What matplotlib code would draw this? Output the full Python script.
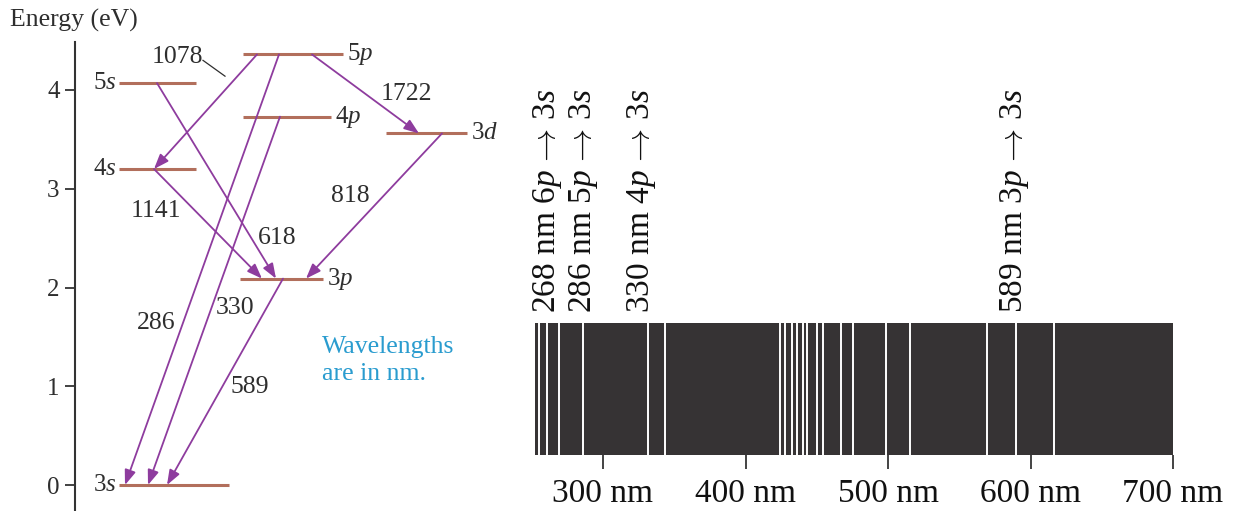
import matplotlib
matplotlib.use("Agg")
import matplotlib.pyplot as plt

plt.rcParams['font.family'] = ['Liberation Serif', 'DejaVu Serif']
plt.rcParams['mathtext.fontset'] = 'custom'
plt.rcParams['mathtext.rm'] = 'cmr10'
plt.rcParams['mathtext.it'] = 'Liberation Serif:italic'

# energy levels of sodium (eV)
level_names = ['3s', '3p', '4s', '3d', '4p', '5s', '5p']
level_energy = [0.0, 2.09, 3.20, 3.56, 3.73, 4.07, 4.36]

# transitions: upper level, lower level, wavelength (nm)
trans_from = ['5p', '5p', '5p', '4p', '5s', '4s', '3d', '3p']
trans_to = ['4s', '3d', '3s', '3s', '3p', '3p', '3p', '3s']
trans_nm = ['1078', '1722', '286', '330', '618', '1141', '818', '589']

# emission spectrum lines (nm)
spectrum_lines = [255, 261, 269, 286, 331.5, 343.5, 424, 427.5, 432.5, 436,
                  440, 443, 450.5, 454.5, 467, 475.5, 498.5, 515.5, 569.5,
                  590, 616.5]
spectrum_range = (252, 700)
labelled_nm = [268, 286, 330, 589]
labelled_text = [r'268 nm 6$p\,\rightarrow\,$3$s$', r'286 nm 5$p\,\rightarrow\,$3$s$',
                 r'330 nm 4$p\,\rightarrow\,$3$s$', r'589 nm 3$p\,\rightarrow\,$3$s$']
spec_ticks = [300, 400, 500, 600, 700]

# diagram layout (horizontal positions only)
level_x = {'3s': (119, 229), '3p': (240, 323), '4s': (119, 196), '3d': (386, 467),
           '4p': (243, 331), '5s': (119, 196), '5p': (243, 343)}
label_side = {'3s': 'l', '3p': 'r', '4s': 'l', '3d': 'r', '4p': 'r', '5s': 'l', '5p': 'r'}
arrow_x = [(257, 154), (312, 419), (279, 125), (280, 148),
           (157, 276), (154, 262), (442, 306), (283, 167)]
num_pos = [(177, 4.33), (406, 3.96), (156, 1.64), (235, 1.79),
           (277, 2.50), (156, 2.77), (350, 2.93), (250, 0.99)]

level_col = '#b26f5c'
arrow_col = '#8e3c9e'
text_col = '#2e2e2e'

fig = plt.figure(figsize=(12.34, 5.11), dpi=100)
E = dict(zip(level_names, level_energy))

# ---- energy level diagram ----
ax = fig.add_axes([75 / 1234, 0, 425 / 1234, 469 / 511])
ax.set_xlim(75, 500)
ax.set_ylim(-0.263, 4.486)
for s in ['top', 'right', 'bottom']:
    ax.spines[s].set_visible(False)
ax.spines['left'].set_color('#333333')
ax.spines['left'].set_linewidth(1.5)
ax.set_xticks([])
ax.set_yticks([0, 1, 2, 3, 4])
ax.tick_params(axis='y', length=7, width=1.3, color='#333333', pad=4,
               labelsize=18, labelcolor=text_col)

for name in level_names:
    x0, x1 = level_x[name]
    ax.plot([x0, x1], [E[name], E[name]], color=level_col, lw=2.2,
            solid_capstyle='butt')
    lab = name[0] + '$' + name[1] + '$'
    if label_side[name] == 'l':
        ax.text(x0 - 3, E[name], lab, ha='right', va='center', fontsize=18, color=text_col)
    else:
        ax.text(x1 + 4, E[name], lab, ha='left', va='center', fontsize=18, color=text_col)

for (xa, xb), a, b in zip(arrow_x, trans_from, trans_to):
    ax.annotate('', xy=(xb, E[b]), xytext=(xa, E[a]),
                arrowprops=dict(arrowstyle='-|>,head_length=0.75,head_width=0.28',
                                mutation_scale=12, color=arrow_col, lw=1.3,
                                shrinkA=0, shrinkB=0))

for (tx, ty), t in zip(num_pos, trans_nm):
    ax.text(tx, ty, t, ha='center', va='center', fontsize=18.5, color=text_col)
ax.plot([203, 225], [4.30, 4.14], color=text_col, lw=0.9)

ax.text(322, 1.26, 'Wavelengths\nare in nm.', ha='left', va='center', fontsize=18.5,
        color='#2a9ccf', linespacing=1.25)

fig.text(10 / 1234, 1 - 20 / 511, 'Energy (eV)', ha='left', va='center',
         fontsize=18.5, color=text_col)

# ---- emission spectrum ----
sx = fig.add_axes([534.6 / 1234, (511 - 455.3) / 511, 638.4 / 1234, 132.6 / 511])
sx.set_xlim(*spectrum_range)
sx.set_ylim(0, 1)
sx.axvspan(*spectrum_range, color='#363334', lw=0)
sx.vlines(spectrum_lines, 0, 1, color='white', lw=1.4)
for s in sx.spines.values():
    s.set_visible(False)
sx.set_yticks([])
sx.set_xticks(spec_ticks)
sx.set_xticklabels([f'{t} nm' for t in spec_ticks])
sx.tick_params(axis='x', length=10, width=1.1, color='#111111', pad=7,
               labelsize=24, labelcolor='#111111')

offsets = [-7, 0, -3, 0]
for wl, t, dx in zip(labelled_nm, labelled_text, offsets):
    sx.annotate(t, xy=(wl, 1), xycoords=('data', 'axes fraction'),
                xytext=(dx, 7), textcoords='offset points', rotation=90,
                ha='center', va='bottom', fontsize=24, color='#111111')

fig.savefig('out.png', dpi=100)
